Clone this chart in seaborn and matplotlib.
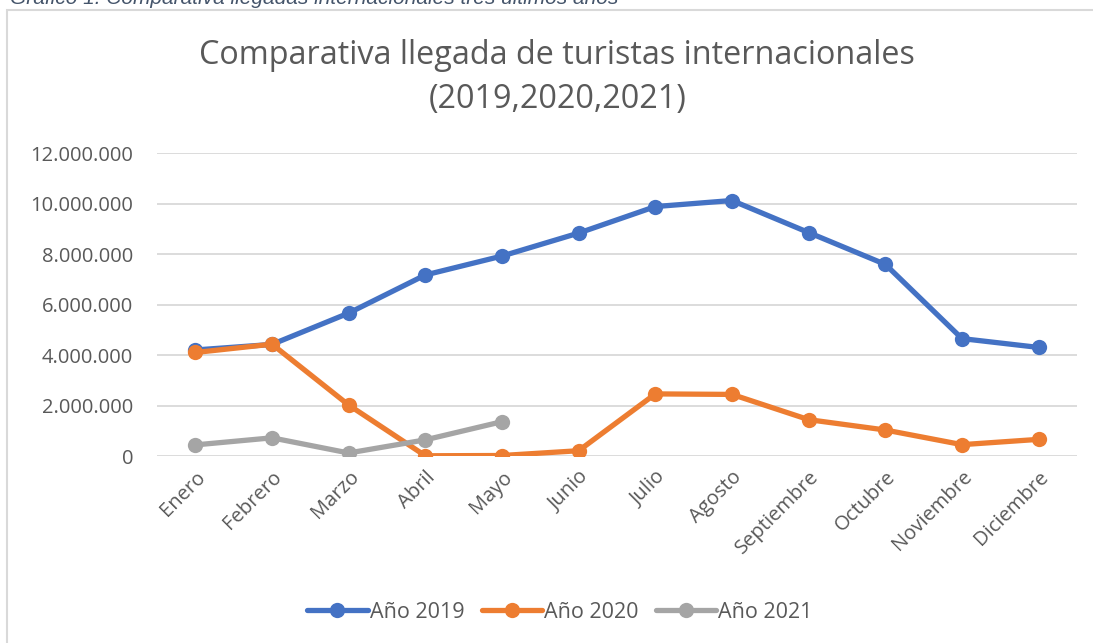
import matplotlib
matplotlib.use("Agg")
import matplotlib.pyplot as plt
import matplotlib.ticker as mticker
from matplotlib.patches import Rectangle
import seaborn as sns
import pandas as pd

# Datos
meses = ["Enero", "Febrero", "Marzo", "Abril", "Mayo", "Junio", "Julio",
         "Agosto", "Septiembre", "Octubre", "Noviembre", "Diciembre"]
llegadas_2019 = [4200000, 4420000, 5660000, 7170000, 7920000, 8830000,
                 9880000, 10120000, 8850000, 7590000, 4650000, 4300000]
llegadas_2020 = [4100000, 4430000, 2020000, 10000, 20000, 210000,
                 2460000, 2440000, 1440000, 1030000, 450000, 660000]
llegadas_2021 = [440000, 720000, 120000, 640000, 1360000]
series = ["Año 2019", "Año 2020", "Año 2021"]
colores = ["#4472C4", "#ED7D31", "#A5A5A5"]

filas = []
for nombre, valores in zip(series, [llegadas_2019, llegadas_2020, llegadas_2021]):
    for i, v in enumerate(valores):
        filas.append({"mes": i, "serie": nombre, "llegadas": v})
df = pd.DataFrame(filas)

sns.set_style("white")
plt.rcParams["font.family"] = ["Open Sans", "DejaVu Sans"]

fig = plt.figure(figsize=(10.93, 6.43), dpi=100)
ax = fig.add_axes([0.1436, 0.2908, 0.8418, 0.4712])

sns.lineplot(data=df, x="mes", y="llegadas", hue="serie", hue_order=series,
             palette=colores, marker="o", markersize=11, markeredgewidth=0,
             linewidth=3.8, ax=ax, legend=True)

ax.set_xlim(-0.5, 11.5)
ax.set_ylim(0, 12000000)
ax.set_xticks(range(len(meses)))
ax.set_xticklabels(meses, rotation=45, ha="right", rotation_mode="anchor",
                   fontsize=14.5, color="#595959")
ax.yaxis.set_major_locator(mticker.MultipleLocator(2000000))
ax.yaxis.set_major_formatter(
    mticker.FuncFormatter(lambda v, p: f"{int(v):,}".replace(",", ".")))
ax.tick_params(axis="y", labelsize=14.5, labelcolor="#595959", length=0, pad=17)
ax.tick_params(axis="x", length=0, pad=8)
ax.grid(axis="y", color="#D9D9D9", linewidth=1.3)
ax.set_axisbelow(True)
for s in ax.spines.values():
    s.set_visible(False)
ax.set_xlabel("")
ax.set_ylabel("")

ax.legend(loc="center", bbox_to_anchor=(0.438, -0.515), ncol=3,
          frameon=False, fontsize=15.5, labelcolor="#595959",
          handlelength=2.8, columnspacing=0.8, handletextpad=0.1)

fig.text(0.51, 0.879, "Comparativa llegada de turistas internacionales\n(2019,2020,2021)",
         ha="center", va="center", fontsize=23.3, color="#595959", linespacing=1.45)

# Marco del gráfico y pie de figura cortado
fig.patches.append(Rectangle((7 / 1093, -0.05), 1.1, 1 - 10 / 643 + 0.05,
                             transform=fig.transFigure, fill=False,
                             edgecolor="#D9D9D9", linewidth=1.5))
fig.text(0.009, 1 - 4 / 643, "Gráfico 1. Comparativa llegadas internacionales tres últimos años",
         ha="left", va="baseline", fontsize=15, style="italic", color="#44546A",
         family=["Liberation Sans", "DejaVu Sans"])

fig.savefig("out.png", dpi=100)
